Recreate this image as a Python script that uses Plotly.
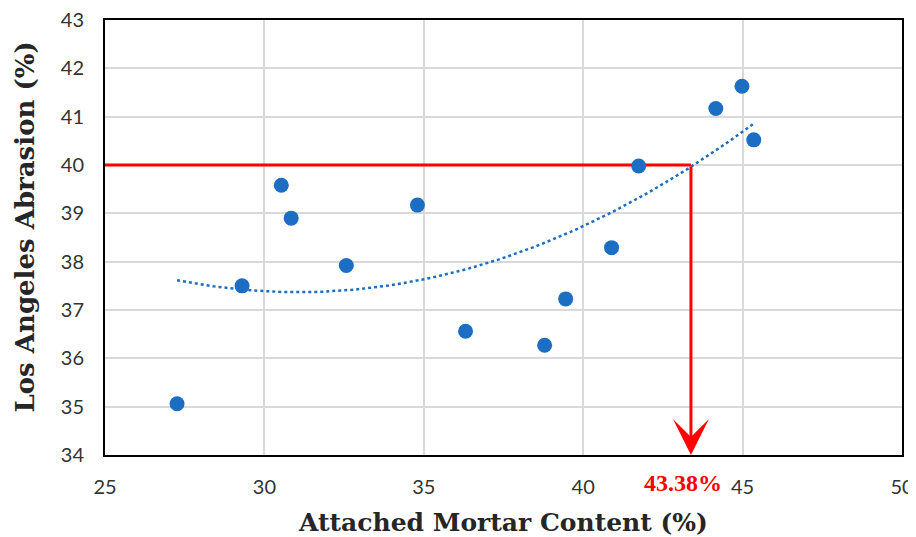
import numpy as np
import plotly.graph_objects as go

mortar = [27.26, 29.30, 30.53, 30.84, 32.57, 34.80, 36.31, 38.79, 39.45, 40.89, 41.74, 44.16, 44.98, 45.35]
abrasion = [35.06, 37.50, 39.58, 38.90, 37.92, 39.17, 36.56, 36.27, 37.23, 38.29, 39.98, 41.17, 41.63, 40.52]
limit_abrasion = 40
limit_mortar = 43.38
x_ticks = [25, 30, 35, 40, 45, 50]
y_ticks = [34, 35, 36, 37, 38, 39, 40, 41, 42, 43]

blue = "#1b6ec2"
red = "#ff0000"

coef = np.polyfit(mortar, abrasion, 2)
tx = np.linspace(min(mortar), max(mortar), 80)
ty = np.polyval(coef, tx)

fig = go.Figure()
fig.add_trace(go.Scatter(x=tx, y=ty, mode="lines",
                         line=dict(color=blue, width=2.5, dash="dot"), hoverinfo="skip"))
fig.add_trace(go.Scatter(x=[x_ticks[0], limit_mortar], y=[limit_abrasion, limit_abrasion],
                         mode="lines", line=dict(color=red, width=3), hoverinfo="skip"))
fig.add_trace(go.Scatter(x=mortar, y=abrasion, mode="markers",
                         marker=dict(color=blue, size=15)))

fig.add_annotation(x=limit_mortar, y=y_ticks[0], ax=limit_mortar, ay=limit_abrasion,
                   xref="x", yref="y", axref="x", ayref="y",
                   showarrow=True, arrowhead=3, arrowsize=2, arrowwidth=3,
                   arrowcolor=red, text="")
fig.add_annotation(x=limit_mortar, y=0, xref="x", yref="paper", yanchor="middle",
                   yshift=-28, xshift=-8, showarrow=False,
                   text=f"<b>{limit_mortar:.2f}%</b>",
                   font=dict(family="Liberation Serif, DejaVu Serif", size=24, color=red))

tick_font = dict(family="Lato, Liberation Sans", size=20, color="#333333")
x_title_font = dict(family="DejaVu Serif", size=25, color="#262626", weight="bold")
y_title_font = dict(family="DejaVu Serif", size=26, color="#262626", weight="bold")

fig.add_annotation(x=0, y=0.5, xref="paper", yref="paper", xanchor="center", yanchor="middle",
                   xshift=-81, yshift=10, textangle=-90, showarrow=False,
                   text="Los Angeles Abrasion (%)", font=y_title_font)
fig.add_annotation(x=0.5, y=0, xref="paper", yref="paper", xanchor="center", yanchor="middle",
                   xshift=-1, yshift=-67, showarrow=False,
                   text="Attached Mortar Content (%)", font=x_title_font)

fig.update_layout(
    width=908, height=529,
    margin=dict(l=97, r=14, t=12, b=82),
    plot_bgcolor="white", paper_bgcolor="white",
    showlegend=False,
)
fig.update_xaxes(range=[25, 50], tickvals=x_ticks, tickfont=tick_font,
                 showgrid=True, gridcolor="#d9d9d9", gridwidth=2,
                 showline=True, linecolor="black", linewidth=2, mirror=True,
                 zeroline=False, ticks="", ticklabelstandoff=13, automargin=False,
                 ticklabeloverflow="allow")
fig.update_yaxes(range=[34, 43], tickvals=y_ticks, tickfont=tick_font,
                 showgrid=True, gridcolor="#d9d9d9", gridwidth=2,
                 showline=True, linecolor="black", linewidth=2, mirror=True,
                 zeroline=False, ticks="", ticklabelstandoff=15, automargin=False,
                 ticklabeloverflow="allow")

fig.write_html("out.html")
